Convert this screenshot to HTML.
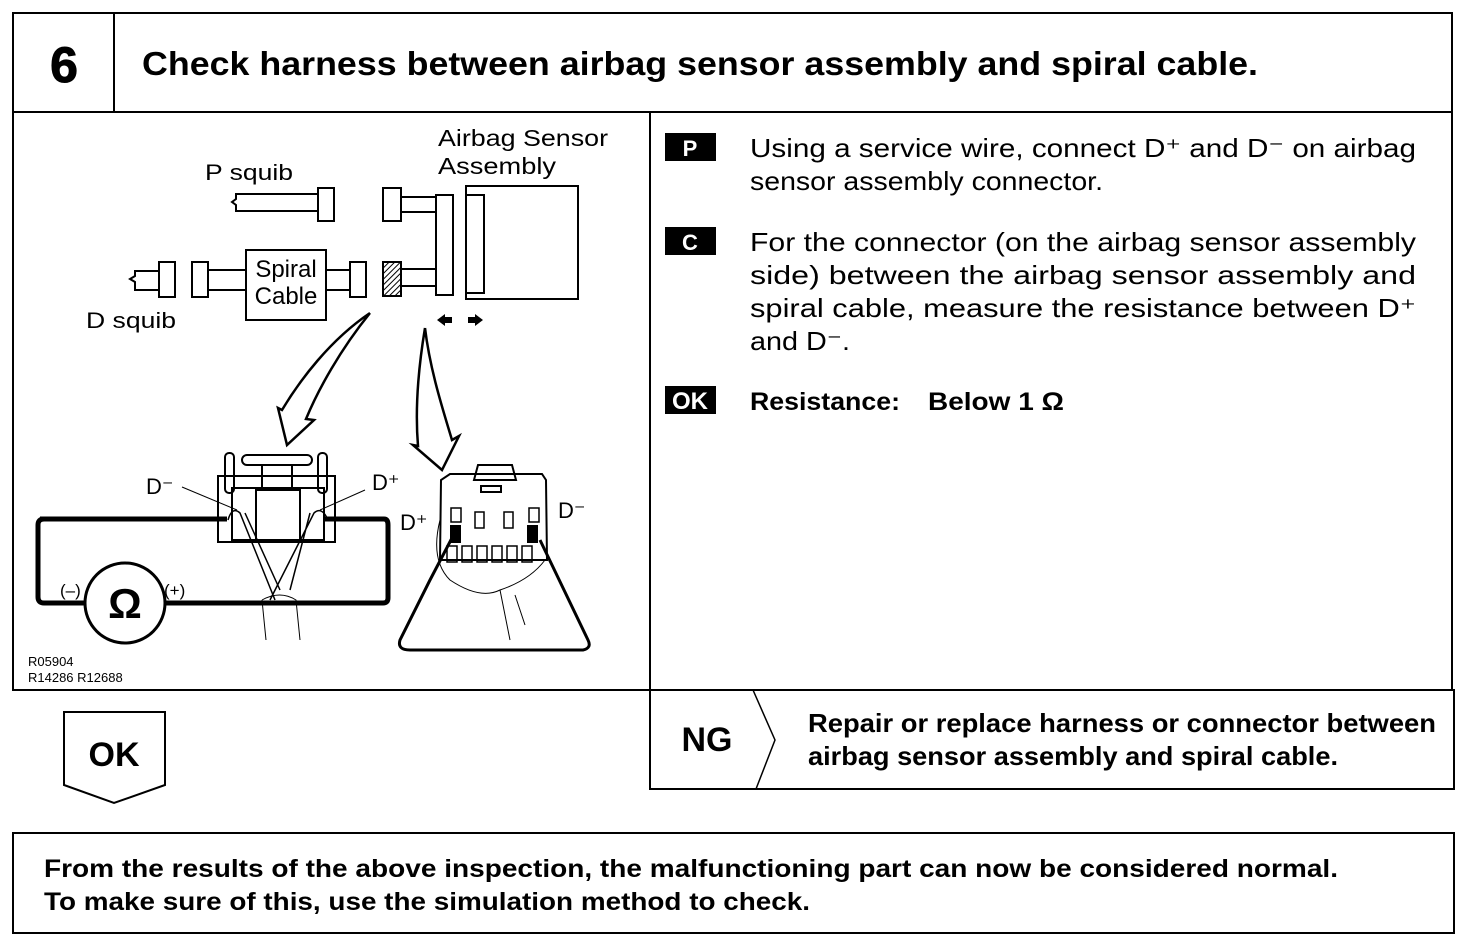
<!DOCTYPE html>
<html><head><meta charset="utf-8"><style>
body{margin:0;background:#fff}
svg{display:block}
text{font-family:"Liberation Sans",Arial,sans-serif;fill:#000}
.b{font-weight:bold}
</style></head><body>
<svg width="1472" height="952" viewBox="0 0 1472 952" xmlns="http://www.w3.org/2000/svg">
<defs>
<pattern id="h" width="4" height="4" patternUnits="userSpaceOnUse" patternTransform="rotate(45)"><rect width="4" height="4" fill="#fff"/><line x1="0" y1="0" x2="0" y2="4" stroke="#000" stroke-width="2"/></pattern>
</defs>
<g fill="none" stroke="#000" stroke-width="2">
<rect x="13" y="13" width="1439" height="677"/>
<line x1="13" y1="112" x2="1452" y2="112"/>
<line x1="114" y1="13" x2="114" y2="112"/>
<line x1="650" y1="112" x2="650" y2="690"/>
<rect x="650" y="690" width="804" height="99"/>
<polyline points="753,690 775,740 756,789" stroke-width="1.5"/>
<polygon points="64,712 165,712 165,785 114,803 64,785"/>
<rect x="13" y="833" width="1441" height="100"/>
</g>
<text x="64" y="82" class="b" font-size="50" text-anchor="middle" stroke="#000" stroke-width="1">6</text>
<text x="142" y="75" class="b" font-size="33" textLength="1116" lengthAdjust="spacingAndGlyphs">Check harness between airbag sensor assembly and spiral cable.</text>

<rect x="665" y="133" width="51" height="28" fill="#000"/>
<text x="690" y="156" font-size="22" class="b" text-anchor="middle" style="fill:#fff">P</text>
<rect x="665" y="227" width="51" height="28" fill="#000"/>
<text x="690" y="250" font-size="22" class="b" text-anchor="middle" style="fill:#fff">C</text>
<rect x="665" y="386" width="51" height="28" fill="#000"/>
<text x="690" y="409" font-size="24" class="b" text-anchor="middle" style="fill:#fff">OK</text>
<g font-size="26">
<text x="750" y="157" textLength="666" lengthAdjust="spacingAndGlyphs">Using a service wire, connect D⁺ and D⁻ on airbag</text>
<text x="750" y="190" textLength="353" lengthAdjust="spacingAndGlyphs">sensor assembly connector.</text>
<text x="750" y="251" textLength="666" lengthAdjust="spacingAndGlyphs">For the connector (on the airbag sensor assembly</text>
<text x="750" y="284" textLength="666" lengthAdjust="spacingAndGlyphs">side) between the airbag sensor assembly and</text>
<text x="750" y="317" textLength="666" lengthAdjust="spacingAndGlyphs">spiral cable, measure the resistance between D⁺</text>
<text x="750" y="350" textLength="100" lengthAdjust="spacingAndGlyphs">and D⁻.</text>
</g>
<text x="750" y="410" font-size="25" class="b" textLength="150" lengthAdjust="spacingAndGlyphs">Resistance:</text>
<text x="928" y="410" font-size="25" class="b" textLength="136" lengthAdjust="spacingAndGlyphs">Below 1 Ω</text>

<text x="114" y="766" font-size="34" class="b" text-anchor="middle">OK</text>
<text x="707" y="751" font-size="34" class="b" text-anchor="middle">NG</text>
<text x="808" y="732" font-size="26" class="b" textLength="628" lengthAdjust="spacingAndGlyphs">Repair or replace harness or connector between</text>
<text x="808" y="765" font-size="26" class="b" textLength="530" lengthAdjust="spacingAndGlyphs">airbag sensor assembly and spiral cable.</text>
<text x="44" y="877" font-size="25" class="b" textLength="1294" lengthAdjust="spacingAndGlyphs">From the results of the above inspection, the malfunctioning part can now be considered normal.</text>
<text x="44" y="910" font-size="25" class="b" textLength="766" lengthAdjust="spacingAndGlyphs">To make sure of this, use the simulation method to check.</text>

<g fill="none" stroke="#000" stroke-width="2">
<text x="438" y="146" font-size="23" stroke="none" textLength="170" lengthAdjust="spacingAndGlyphs">Airbag Sensor</text>
<text x="438" y="174" font-size="23" stroke="none" textLength="118" lengthAdjust="spacingAndGlyphs">Assembly</text>
<text x="205" y="180" font-size="22" stroke="none" textLength="88" lengthAdjust="spacingAndGlyphs">P squib</text>
<text x="86" y="328" font-size="22" stroke="none" textLength="90" lengthAdjust="spacingAndGlyphs">D squib</text>
<polyline points="318,194 236,194 236,199 232,202 236,205 236,211 318,211"/>
<rect x="318" y="188" width="16" height="33"/>
<rect x="383" y="188" width="18" height="33"/>
<line x1="401" y1="197" x2="436" y2="197"/><line x1="401" y1="212" x2="436" y2="212"/>
<rect x="436" y="195" width="17" height="100"/>
<rect x="466" y="186" width="112" height="113"/>
<rect x="466" y="195" width="18" height="98"/>
<line x1="401" y1="286" x2="436" y2="286"/><line x1="401" y1="269" x2="436" y2="269"/>
<rect x="383" y="262" width="18" height="34" fill="url(#h)"/>
<polyline points="159,271 135,271 135,276 130,279 135,282 135,290 159,290"/>
<rect x="159" y="262" width="16" height="35"/>
<rect x="192" y="262" width="16" height="35"/>
<line x1="208" y1="270" x2="246" y2="270"/><line x1="208" y1="290" x2="246" y2="290"/>
<rect x="246" y="250" width="80" height="70"/>
<text x="286" y="277" font-size="24" stroke="none" text-anchor="middle">Spiral</text>
<text x="286" y="304" font-size="24" stroke="none" text-anchor="middle">Cable</text>
<line x1="326" y1="270" x2="350" y2="270"/><line x1="326" y1="290" x2="350" y2="290"/>
<rect x="350" y="262" width="16" height="35"/>
<polygon points="437,320 445,314 445,317 452,317 452,323 445,323 445,326" fill="#000" stroke="none"/>
<polygon points="483,320 475,314 475,317 468,317 468,323 475,323 475,326" fill="#000" stroke="none"/>
<path d="M370,313 C330,340 300,380 282,410 L278,408 L287,445 L314,420 L306,419 C318,390 340,350 370,313" fill="#fff" stroke-width="2.5"/>
<path d="M425,328 C418,370 415,410 418,446 L413,445 L442,470 L459,436 L452,440 C443,410 430,370 425,328" fill="#fff" stroke-width="2.5"/>
<rect x="218" y="476" width="117" height="66"/>
<rect x="232" y="488" width="92" height="52"/>
<rect x="256" y="490" width="44" height="50"/>
<rect x="225" y="453" width="9" height="40" rx="4"/>
<rect x="318" y="453" width="9" height="40" rx="4"/>
<rect x="242" y="455" width="70" height="10" rx="5"/>
<rect x="262" y="465" width="30" height="24"/>
<path d="M40,519 L227,519 M325,519 L384,519 Q388,519 388,525 L388,598 Q388,603 383,603 L166,603 M85,603 L44,603 Q38,603 38,597 L38,525 Q38,519 44,519" stroke-width="5"/>
<circle cx="125" cy="603" r="40" stroke-width="3"/>
<text x="125" y="618" font-size="42" stroke="none" text-anchor="middle" class="b">Ω</text>
<text x="60" y="596" font-size="17" stroke="none">(–)</text>
<text x="164" y="596" font-size="17" stroke="none">(+)</text>
<text x="146" y="494" font-size="22" stroke="none">D⁻</text>
<text x="372" y="490" font-size="22" stroke="none">D⁺</text>
<line x1="182" y1="487" x2="237" y2="510" stroke-width="1"/>
<line x1="365" y1="490" x2="320" y2="510" stroke-width="1"/>
<path d="M228,520 Q232,506 240,513 L275,600 M245,513 L280,590" stroke-width="1.5"/>
<path d="M328,520 Q322,506 314,513 L270,600 M310,513 L290,590" stroke-width="1.5"/>
<path d="M262,600 Q280,590 296,600 L300,640 M262,600 L266,640" stroke-width="1"/>
<path d="M450,474 L542,474 L546,480 L547,560 L440,560 L441,480 Z"/>
<path d="M478,465 L512,465 L516,480 L474,480 Z"/>
<rect x="481" y="486" width="20" height="6"/>
<g stroke-width="1.5">
<rect x="451" y="508" width="10" height="14"/><rect x="529" y="508" width="10" height="14"/>
<rect x="475" y="512" width="9" height="16"/><rect x="504" y="512" width="9" height="16"/>
<rect x="447" y="546" width="10" height="16"/><rect x="462" y="546" width="10" height="16"/><rect x="477" y="546" width="10" height="16"/><rect x="492" y="546" width="10" height="16"/><rect x="507" y="546" width="10" height="16"/><rect x="522" y="546" width="10" height="16"/>
</g>
<rect x="451" y="526" width="9" height="16" fill="#000"/><rect x="528" y="526" width="9" height="16" fill="#000"/>
<text x="400" y="530" font-size="22" stroke="none">D⁺</text>
<text x="558" y="518" font-size="22" stroke="none">D⁻</text>
<path d="M453,536 L430,580 L400,640 Q397,650 410,650 L583,650 Q592,648 588,640 L540,540" stroke-width="3"/>
<path d="M440,520 Q430,560 450,580 Q480,600 500,590 Q530,580 545,560" stroke-width="1"/>
<path d="M500,590 L510,640 M515,595 L525,625" stroke-width="1"/>
</g>
<text x="28" y="666" font-size="13">R05904</text>
<text x="28" y="682" font-size="13">R14286 R12688</text>
</svg>
</body></html>
